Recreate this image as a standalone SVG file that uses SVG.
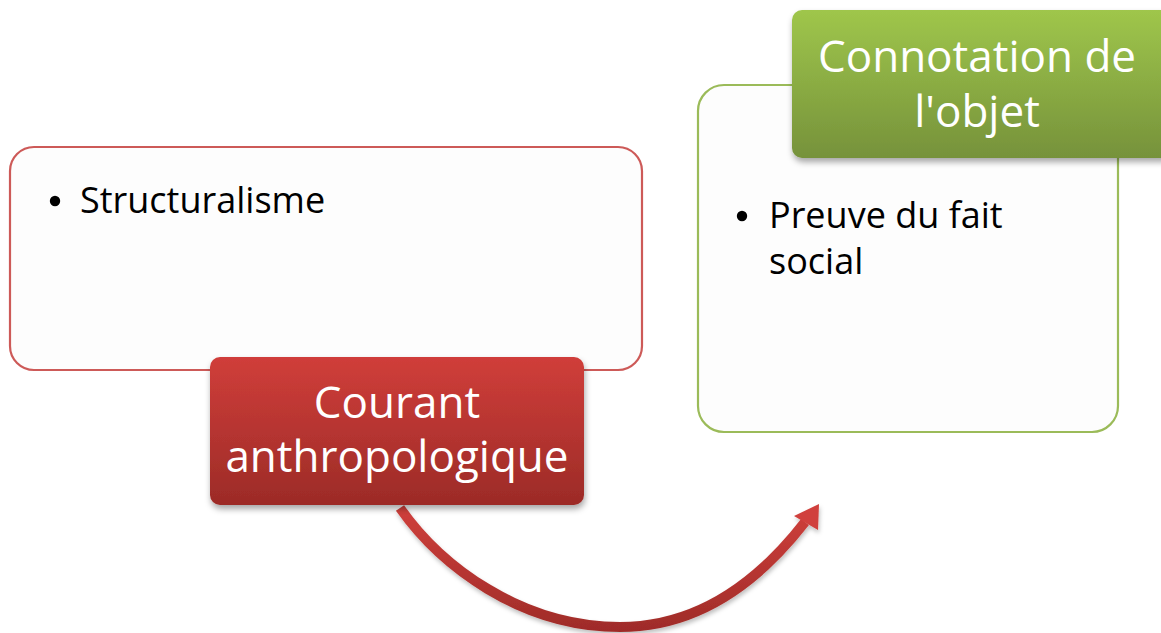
<svg xmlns="http://www.w3.org/2000/svg" width="1161" height="633" viewBox="0 0 1161 633">
<defs>
<linearGradient id="gRed" x1="0" y1="0" x2="0" y2="1">
<stop offset="0" stop-color="#d03e3a"/>
<stop offset="1" stop-color="#9c2b27"/>
</linearGradient>
<linearGradient id="gGreen" x1="0" y1="0" x2="0" y2="1">
<stop offset="0" stop-color="#9fc64b"/>
<stop offset="1" stop-color="#76923b"/>
</linearGradient>
<linearGradient id="gArrow" gradientUnits="userSpaceOnUse" x1="0" y1="505" x2="0" y2="633">
<stop offset="0" stop-color="#d0403c"/>
<stop offset="1" stop-color="#9e2b28"/>
</linearGradient>
<filter id="shadow" x="-10%" y="-10%" width="130%" height="140%">
<feDropShadow dx="1" dy="4" stdDeviation="3" flood-color="#000" flood-opacity="0.35"/>
</filter>
<filter id="ashadow" x="-10%" y="-10%" width="130%" height="140%">
<feDropShadow dx="1" dy="3" stdDeviation="2" flood-color="#000" flood-opacity="0.25"/>
</filter>
<style>
.box{fill:#fdfdfd;stroke-width:2.2}
.body{font-family:"Open Sans","Liberation Sans",sans-serif;font-size:36px;fill:#000}
.lbl{font-family:"Open Sans","Liberation Sans",sans-serif;font-size:44px;fill:#fff;text-anchor:middle}
</style>
</defs>
<g id="connectors">
<g filter="url(#ashadow)">
<path d="M400,508 C440,565 520,627 620,627 C700,627 760,580 805,522" fill="none" stroke="url(#gArrow)" stroke-width="10"/>
<polygon points="819,504 794,516 818,530" fill="#d0403c"/>
</g>
</g>
<g id="node-structuralisme">
<rect class="box" x="10" y="147" width="632" height="223" rx="24" stroke="#cd5a58"/>
<circle cx="55" cy="201" r="5.2" fill="#000"/>
<text class="body" x="80" y="213">Structuralisme</text>
</g>
<g id="node-courant">
<rect x="210" y="357" width="374" height="148" rx="10" fill="url(#gRed)" filter="url(#shadow)"/>
<text class="lbl" x="397" y="418">Courant</text>
<text class="lbl" x="397" y="472">anthropologique</text>
</g>
<g id="node-preuve">
<rect class="box" x="698" y="85" width="420" height="347" rx="26" stroke="#9bbb59"/>
<circle cx="742" cy="216" r="5.2" fill="#000"/>
<text class="body" x="769" y="228">Preuve du fait</text>
<text class="body" x="769" y="274">social</text>
</g>
<g id="node-connotation">
<rect x="792" y="10" width="380" height="148" rx="10" fill="url(#gGreen)" filter="url(#shadow)"/>
<text class="lbl" x="977" y="72">Connotation de</text>
<text class="lbl" x="977" y="127">l'objet</text>
</g>
</svg>
